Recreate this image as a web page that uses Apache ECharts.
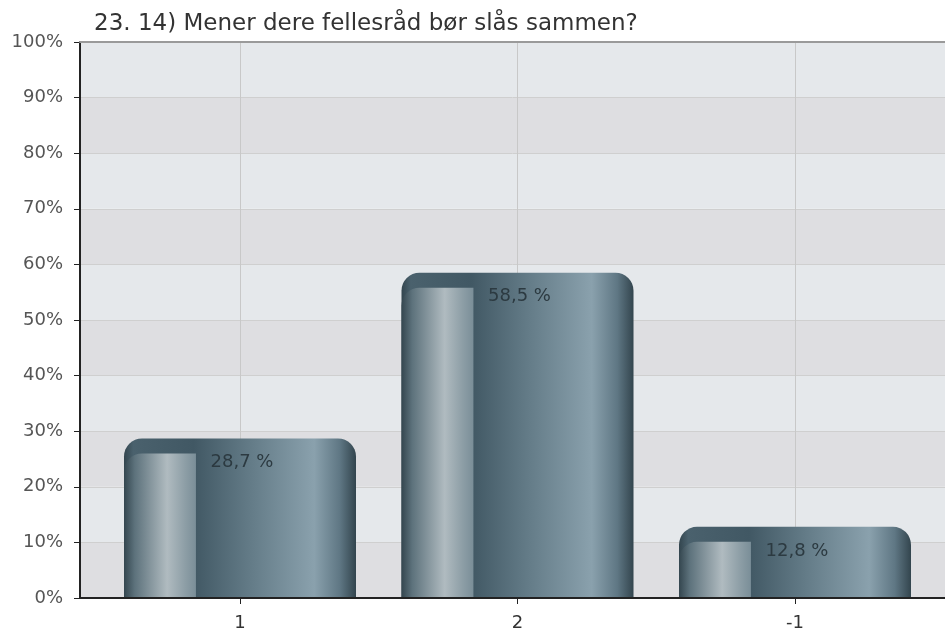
<!DOCTYPE html>
<html>
<head>
<meta charset="utf-8">
<script src="https://cdn.jsdelivr.net/npm/echarts@6/dist/echarts.min.js"></script>
<style>
  html, body { margin: 0; padding: 0; background: #fff; }
  #chart { width: 945px; height: 634px; }
</style>
</head>
<body>
<div id="chart"></div>
<script>
var titleText = '23. 14) Mener dere fellesråd bør slås sammen?';
var categories = ['1', '2', '-1'];
var values = [28.7, 58.5, 12.8];

var chart = echarts.init(document.getElementById('chart'));
var font = 'DejaVu Sans';

// main bar colour, left to right
var barColor = new echarts.graphic.LinearGradient(0, 0, 1, 0, [
    {offset: 0, color: '#33454e'},
    {offset: 0.04, color: '#4a616d'},
    {offset: 0.3, color: '#415864'},
    {offset: 0.55, color: '#647c88'},
    {offset: 0.82, color: '#8aa1ad'},
    {offset: 0.93, color: '#5f7784'},
    {offset: 1, color: '#33454e'}
]);
// lighter shine on the left part of each bar
var shineColor = new echarts.graphic.LinearGradient(0, 0, 1, 0, [
    {offset: 0, color: '#34464f'},
    {offset: 0.15, color: '#5d727c'},
    {offset: 0.6, color: '#b0bbc0'},
    {offset: 0.85, color: '#8d9ea6'},
    {offset: 1, color: '#7a8e98'}
]);

var barW = 232;

var option = {
    animation: false,
    title: {
        text: titleText,
        left: 89,
        top: 8,
        textStyle: {
            fontFamily: font,
            fontSize: 23,
            fontWeight: 'normal',
            color: '#333'
        }
    },
    grid: [
        {left: 80, right: 0, top: 42, bottom: 36},
        {left: 240, right: 150, top: 42, bottom: 36}
    ],
    xAxis: [
        {
            gridIndex: 0,
            type: 'value',
            position: 'bottom',
            z: 4,
            axisLine: {show: true, lineStyle: {color: '#222', width: 2}},
            axisTick: {show: false},
            axisLabel: {show: false},
            splitLine: {show: false}
        },
        {
            gridIndex: 0,
            type: 'value',
            position: 'top',
            z: 4,
            axisLine: {show: true, lineStyle: {color: '#9a9a9a', width: 2}},
            axisTick: {show: false},
            axisLabel: {show: false},
            splitLine: {show: false}
        },
        {
            gridIndex: 1,
            type: 'category',
            data: categories,
            boundaryGap: false,
            z: 1,
            axisLine: {show: false},
            axisTick: {show: true, length: 6, lineStyle: {color: '#222', width: 1}},
            axisLabel: {
                margin: 16,
                fontFamily: font,
                fontSize: 18,
                color: '#333'
            },
            splitLine: {show: true, lineStyle: {color: '#c8c8c8', width: 1}}
        }
    ],
    yAxis: [
        {
            gridIndex: 0,
            type: 'value',
            min: 0,
            max: 100,
            interval: 10,
            z: 0,
            axisLine: {show: true, lineStyle: {color: '#222', width: 2}},
            axisTick: {show: true, length: 6, lineStyle: {color: '#222', width: 1}},
            axisLabel: {
                formatter: '{value}%',
                margin: 17,
                fontFamily: font,
                fontSize: 18,
                color: '#555'
            },
            splitLine: {show: true, lineStyle: {color: '#cfcfcf', width: 1}},
            splitArea: {show: true, areaStyle: {color: ['#dedee1', '#e5e8eb']}}
        },
        {
            gridIndex: 1,
            type: 'value',
            min: 0,
            max: 100,
            show: false
        }
    ],
    series: [
        {
            type: 'bar',
            xAxisIndex: 2,
            yAxisIndex: 1,
            data: values,
            barWidth: barW,
            clip: false,
            z: 2,
            itemStyle: {
                color: barColor,
                borderRadius: [18, 18, 0, 0]
            },
            label: {
                show: true,
                position: 'insideTop',
                distance: 15,
                offset: [2, 0],
                fontFamily: font,
                fontSize: 18,
                color: '#2c3a41',
                formatter: function (p) {
                    return String(p.value).replace('.', ',') + ' %';
                }
            }
        },
        {
            type: 'custom',
            xAxisIndex: 2,
            yAxisIndex: 1,
            data: values.map(function (v, i) { return [i, v]; }),
            z: 3,
            silent: true,
            renderItem: function (params, api) {
                var top = api.coord([api.value(0), api.value(1)]);
                var base = api.coord([api.value(0), 0]);
                var x0 = top[0] - barW / 2;
                var y0 = top[1] + 15;
                return {
                    type: 'rect',
                    shape: {x: x0, y: y0, width: barW * 0.31, height: base[1] - y0, r: [18, 0, 0, 0]},
                    style: {fill: shineColor}
                };
            }
        }
    ]
};

chart.setOption(option);
</script>
</body>
</html>
